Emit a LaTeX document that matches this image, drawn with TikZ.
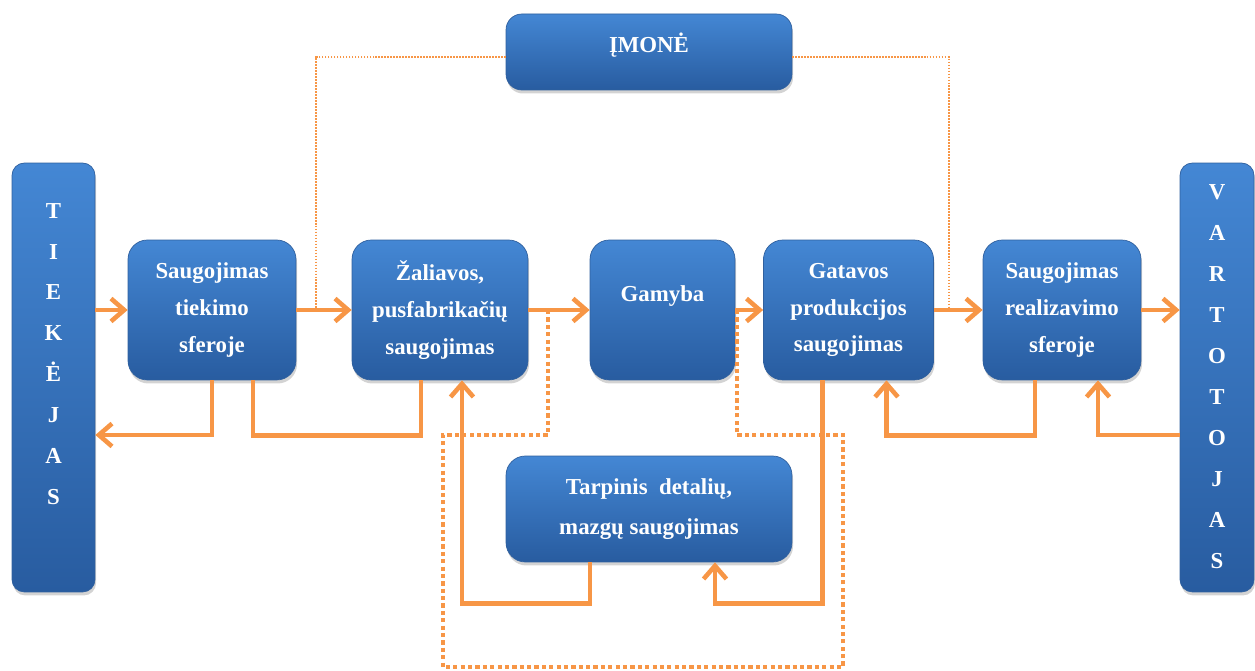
\documentclass[tikz,border=0pt]{standalone}
\usepackage{fontspec}
\setmainfont{Liberation Serif}
\usetikzlibrary{arrows.meta, calc, shadows}

\definecolor{flowor}{RGB}{247,150,70}
\definecolor{boxtop}{RGB}{68,135,212}
\definecolor{boxbot}{RGB}{40,92,160}
\definecolor{boxedge}{RGB}{48,96,158}

\tikzset{
  blockbox/.style={rectangle, rounded corners=11pt, top color=boxtop, bottom color=boxbot,
    draw=boxedge, line width=0.4pt,
    drop shadow={opacity=0.35, shadow xshift=0.6pt, shadow yshift=-2pt},
    text=white, font=\bfseries\fontsize{13}{21}\selectfont, align=center, inner sep=0pt},
  boxtext/.style={text=white, font=\bfseries\fontsize{13}{21}\selectfont, align=center, inner sep=0pt},
  flow/.style={draw=flowor, line width=2.6pt, -{Straight Barb[length=7.5pt,width=13pt]}},
  flowline/.style={draw=flowor, line width=2.6pt},
  dotloop/.style={draw=flowor, line width=2.4pt, dash pattern=on 2.4pt off 1.8pt},
  thinlink/.style={draw=flowor, line width=0.6pt, dash pattern=on 1pt off 0.7pt}
}

\begin{document}
\begin{tikzpicture}[x=0.02cm, y=-0.02cm]
\useasboundingbox (0,0) rectangle (1255,671);

% Side blocks
\node[blockbox, rounded corners=7pt, minimum width=1.66cm, minimum height=8.58cm] (tiek) at (53.5,377.5) {};
\node[boxtext, font=\bfseries\fontsize{13}{23.3}\selectfont] (tiektxt) at (53.5,354) {T\\I\\E\\K\\Ė\\J\\A\\S};
\node[blockbox, rounded corners=7pt, minimum width=1.48cm, minimum height=8.58cm] (vart) at (1217,377.5) {};
\node[boxtext, font=\bfseries\fontsize{13}{23.3}\selectfont] (varttxt) at (1217,376.5) {V\\A\\R\\T\\O\\T\\O\\J\\A\\S};

% Main chain
\node[blockbox, minimum width=3.36cm, minimum height=2.8cm] (saug1) at (212,310) {Saugojimas\\tiekimo\\sferoje};
\node[blockbox, minimum width=3.52cm, minimum height=2.8cm] (zal) at (440,310) {Žaliavos,\\pusfabrikačių\\saugojimas};
\node[blockbox, minimum width=2.9cm, minimum height=2.8cm] (gam) at (662.5,310) {};
\node[boxtext] (gamtxt) at (662.5,296) {Gamyba};
\node[blockbox, minimum width=3.4cm, minimum height=2.8cm] (gat) at (848.5,310) {Gatavos\\produkcijos\\saugojimas};
\node[blockbox, minimum width=3.16cm, minimum height=2.8cm] (real) at (1062,310) {Saugojimas\\realizavimo\\sferoje};

% Enterprise and intermediate storage
\node[blockbox, rounded corners=9pt, minimum width=5.72cm, minimum height=1.52cm] (imone) at (649,52) {};
\node[boxtext] (imonetxt) at (649,45) {ĮMONĖ};
\node[blockbox, font=\bfseries\fontsize{13}{22.5}\selectfont, minimum width=5.72cm, minimum height=2.12cm] (tarp) at (649,509) {Tarpinis\ \ detalių,\\mazgų saugojimas};

\coordinate (lvA) at (0,435);
\coordinate (j1) at (316,310);
\coordinate (j2) at (949,310);
\coordinate (d1) at (548,310);
\coordinate (d2) at (737,310);

% Forward flow
\draw[flow] (tiek.east |- saug1.west) -- (saug1.west);
\draw[flow] (saug1) -- (zal);
\draw[flow] (zal) -- (gam);
\draw[flow] (gam) -- (gat);
\draw[flow] (gat) -- (real);
\draw[flow] (real.east) -- (vart.west |- real.east);

% Returns
\draw[flow] (saug1.south) |- (tiek.east |- lvA);
\draw[flowline] ($(saug1.south)+(41,0)$) |- ($(zal.south)+(-19,55)$) -- ($(zal.south)+(-19,0)$);
\draw[flow] ($(tarp.south)+(-59,0)$) |- ($(zal.south)+(22,223)$) -- ($(zal.south)+(22,0)$);
\draw[flow] ($(gat.south)+(-26,0)$) |- ($(tarp.south)+(66,41)$) -- ($(tarp.south)+(66,0)$);
\draw[flow] ($(real.south)+(-27,0)$) |- ($(gat.south)+(38,55)$) -- ($(gat.south)+(38,0)$);
\draw[flow] (vart.west |- lvA) -| ($(real.south)+(36,0)$);

% Enterprise links
\draw[thinlink] ($(imone.west)+(0,5)$) -| (j1);
\draw[thinlink] ($(imone.east)+(0,5)$) -| (j2);

% Dotted loop round production
\draw[dotloop] (d1) -- ++(0,125) -- ++(-105,0) -- ++(0,232) -- ++(400,0) -- ++(0,-232) -- ++(-106,0) -- (d2);
\end{tikzpicture}
\end{document}
